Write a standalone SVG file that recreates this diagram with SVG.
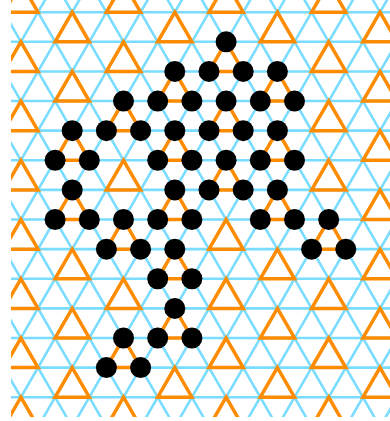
<svg xmlns="http://www.w3.org/2000/svg" xmlns:xlink="http://www.w3.org/1999/xlink" width="390" height="421" viewBox="0 0 390 421">
<style>
.b{stroke:#7adcff;stroke-width:2.6;fill:none}
.o{stroke:#ff8c00;stroke-width:3.5;fill:none;stroke-linejoin:miter}
.d{fill:#000}
</style>
<defs>
<clipPath id="clip"><rect x="11" y="0" width="379" height="417"/></clipPath>
<path id="t" d="M0 0L17.1 29.618L-17.1 29.618Z"/>
</defs>
<rect width="390" height="421" fill="#fff"/>
<g clip-path="url(#clip)">
<g id="lattice">
<path class="b" d="M11 12.2H390M11 41.82H390M11 71.44H390M11 101.05H390M11 130.67H390M11 160.29H390M11 189.91H390M11 219.53H390M11 249.14H390M11 278.76H390M11 308.38H390M11 338H390M11 367.62H390M11 397.23H390"/>
<path class="b" d="M-218.5 -17.42L55.1 456.47M-184.3 -17.42L89.3 456.47M-150.1 -17.42L123.5 456.47M-115.9 -17.42L157.7 456.47M-81.7 -17.42L191.9 456.47M-47.5 -17.42L226.1 456.47M-13.3 -17.42L260.3 456.47M20.9 -17.42L294.5 456.47M55.1 -17.42L328.7 456.47M89.3 -17.42L362.9 456.47M123.5 -17.42L397.1 456.47M157.7 -17.42L431.3 456.47M191.9 -17.42L465.5 456.47M226.1 -17.42L499.7 456.47M260.3 -17.42L533.9 456.47M294.5 -17.42L568.1 456.47M328.7 -17.42L602.3 456.47M362.9 -17.42L636.5 456.47"/>
<path class="b" d="M20.9 -17.42L-252.7 456.47M55.1 -17.42L-218.5 456.47M89.3 -17.42L-184.3 456.47M123.5 -17.42L-150.1 456.47M157.7 -17.42L-115.9 456.47M191.9 -17.42L-81.7 456.47M226.1 -17.42L-47.5 456.47M260.3 -17.42L-13.3 456.47M294.5 -17.42L20.9 456.47M328.7 -17.42L55.1 456.47M362.9 -17.42L89.3 456.47M397.1 -17.42L123.5 456.47M431.3 -17.42L157.7 456.47M465.5 -17.42L191.9 456.47M499.7 -17.42L226.1 456.47M533.9 -17.42L260.3 456.47M568.1 -17.42L294.5 456.47M602.3 -17.42L328.7 456.47M636.5 -17.42L362.9 456.47"/>
</g>
<g id="triangles" class="o">
<use xlink:href="#t" x="20.9" y="-17.42"/><use xlink:href="#t" x="123.5" y="-17.42"/><use xlink:href="#t" x="226.1" y="-17.42"/><use xlink:href="#t" x="328.7" y="-17.42"/>
<use xlink:href="#t" x="72.2" y="12.2"/><use xlink:href="#t" x="174.8" y="12.2"/><use xlink:href="#t" x="277.4" y="12.2"/><use xlink:href="#t" x="380" y="12.2"/>
<use xlink:href="#t" x="20.9" y="41.82"/><use xlink:href="#t" x="123.5" y="41.82"/><use xlink:href="#t" x="328.7" y="41.82"/>
<use xlink:href="#t" x="72.2" y="71.44"/><use xlink:href="#t" x="380" y="71.44"/>
<use xlink:href="#t" x="20.9" y="101.05"/><use xlink:href="#t" x="328.7" y="101.05"/>
<use xlink:href="#t" x="380" y="130.67"/>
<use xlink:href="#t" x="20.9" y="160.29"/><use xlink:href="#t" x="123.5" y="160.29"/><use xlink:href="#t" x="328.7" y="160.29"/>
<use xlink:href="#t" x="380" y="189.91"/>
<use xlink:href="#t" x="20.9" y="219.53"/><use xlink:href="#t" x="226.1" y="219.53"/>
<use xlink:href="#t" x="72.2" y="249.14"/><use xlink:href="#t" x="277.4" y="249.14"/><use xlink:href="#t" x="380" y="249.14"/>
<use xlink:href="#t" x="20.9" y="278.76"/><use xlink:href="#t" x="123.5" y="278.76"/><use xlink:href="#t" x="226.1" y="278.76"/><use xlink:href="#t" x="328.7" y="278.76"/>
<use xlink:href="#t" x="72.2" y="308.38"/><use xlink:href="#t" x="277.4" y="308.38"/><use xlink:href="#t" x="380" y="308.38"/>
<use xlink:href="#t" x="20.9" y="338"/><use xlink:href="#t" x="226.1" y="338"/><use xlink:href="#t" x="328.7" y="338"/>
<use xlink:href="#t" x="72.2" y="367.62"/><use xlink:href="#t" x="174.8" y="367.62"/><use xlink:href="#t" x="277.4" y="367.62"/><use xlink:href="#t" x="380" y="367.62"/>
<use xlink:href="#t" x="20.9" y="397.23"/><use xlink:href="#t" x="123.5" y="397.23"/><use xlink:href="#t" x="226.1" y="397.23"/><use xlink:href="#t" x="328.7" y="397.23"/>
</g>
<g id="connectors" class="o">
<use xlink:href="#t" x="226.1" y="41.82"/>
<use xlink:href="#t" x="174.8" y="71.44"/><use xlink:href="#t" x="277.4" y="71.44"/>
<use xlink:href="#t" x="123.5" y="101.05"/><use xlink:href="#t" x="226.1" y="101.05"/>
<use xlink:href="#t" x="72.2" y="130.67"/><use xlink:href="#t" x="174.8" y="130.67"/><use xlink:href="#t" x="277.4" y="130.67"/>
<use xlink:href="#t" x="226.1" y="160.29"/>
<use xlink:href="#t" x="72.2" y="189.91"/><use xlink:href="#t" x="174.8" y="189.91"/><use xlink:href="#t" x="277.4" y="189.91"/>
<use xlink:href="#t" x="123.5" y="219.53"/><use xlink:href="#t" x="328.7" y="219.53"/>
<use xlink:href="#t" x="174.8" y="249.14"/>
<use xlink:href="#t" x="174.8" y="308.38"/>
<use xlink:href="#t" x="123.5" y="338"/>
</g>
<g id="nodes" class="d">
<g id="n1"><circle cx="226.1" cy="41.82" r="10.5"/></g>
<g id="n2"><circle cx="209" cy="71.44" r="10.5"/></g>
<g id="n3"><circle cx="243.2" cy="71.44" r="10.5"/></g>
<g id="n4"><circle cx="174.8" cy="71.44" r="10.5"/></g>
<g id="n5"><circle cx="157.7" cy="101.05" r="10.5"/></g>
<g id="n6"><circle cx="191.9" cy="101.05" r="10.5"/></g>
<g id="n7"><circle cx="277.4" cy="71.44" r="10.5"/></g>
<g id="n8"><circle cx="260.3" cy="101.05" r="10.5"/></g>
<g id="n9"><circle cx="294.5" cy="101.05" r="10.5"/></g>
<g id="n10"><circle cx="123.5" cy="101.05" r="10.5"/></g>
<g id="n11"><circle cx="106.4" cy="130.67" r="10.5"/></g>
<g id="n12"><circle cx="140.6" cy="130.67" r="10.5"/></g>
<g id="n13"><circle cx="226.1" cy="101.05" r="10.5"/></g>
<g id="n14"><circle cx="209" cy="130.67" r="10.5"/></g>
<g id="n15"><circle cx="243.2" cy="130.67" r="10.5"/></g>
<g id="n16"><circle cx="72.2" cy="130.67" r="10.5"/></g>
<g id="n17"><circle cx="55.1" cy="160.29" r="10.5"/></g>
<g id="n18"><circle cx="89.3" cy="160.29" r="10.5"/></g>
<g id="n19"><circle cx="174.8" cy="130.67" r="10.5"/></g>
<g id="n20"><circle cx="157.7" cy="160.29" r="10.5"/></g>
<g id="n21"><circle cx="191.9" cy="160.29" r="10.5"/></g>
<g id="n22"><circle cx="277.4" cy="130.67" r="10.5"/></g>
<g id="n23"><circle cx="260.3" cy="160.29" r="10.5"/></g>
<g id="n24"><circle cx="294.5" cy="160.29" r="10.5"/></g>
<g id="n25"><circle cx="226.1" cy="160.29" r="10.5"/></g>
<g id="n26"><circle cx="209" cy="189.91" r="10.5"/></g>
<g id="n27"><circle cx="243.2" cy="189.91" r="10.5"/></g>
<g id="n28"><circle cx="72.2" cy="189.91" r="10.5"/></g>
<g id="n29"><circle cx="55.1" cy="219.53" r="10.5"/></g>
<g id="n30"><circle cx="89.3" cy="219.53" r="10.5"/></g>
<g id="n31"><circle cx="174.8" cy="189.91" r="10.5"/></g>
<g id="n32"><circle cx="157.7" cy="219.53" r="10.5"/></g>
<g id="n33"><circle cx="191.9" cy="219.53" r="10.5"/></g>
<g id="n34"><circle cx="277.4" cy="189.91" r="10.5"/></g>
<g id="n35"><circle cx="260.3" cy="219.53" r="10.5"/></g>
<g id="n36"><circle cx="294.5" cy="219.53" r="10.5"/></g>
<g id="n37"><circle cx="123.5" cy="219.53" r="10.5"/></g>
<g id="n38"><circle cx="106.4" cy="249.14" r="10.5"/></g>
<g id="n39"><circle cx="140.6" cy="249.14" r="10.5"/></g>
<g id="n40"><circle cx="328.7" cy="219.53" r="10.5"/></g>
<g id="n41"><circle cx="311.6" cy="249.14" r="10.5"/></g>
<g id="n42"><circle cx="345.8" cy="249.14" r="10.5"/></g>
<g id="n43"><circle cx="174.8" cy="249.14" r="10.5"/></g>
<g id="n44"><circle cx="157.7" cy="278.76" r="10.5"/></g>
<g id="n45"><circle cx="191.9" cy="278.76" r="10.5"/></g>
<g id="n46"><circle cx="174.8" cy="308.38" r="10.5"/></g>
<g id="n47"><circle cx="157.7" cy="338" r="10.5"/></g>
<g id="n48"><circle cx="191.9" cy="338" r="10.5"/></g>
<g id="n49"><circle cx="123.5" cy="338" r="10.5"/></g>
<g id="n50"><circle cx="106.4" cy="367.62" r="10.5"/></g>
<g id="n51"><circle cx="140.6" cy="367.62" r="10.5"/></g>
</g>
</g>
</svg>
